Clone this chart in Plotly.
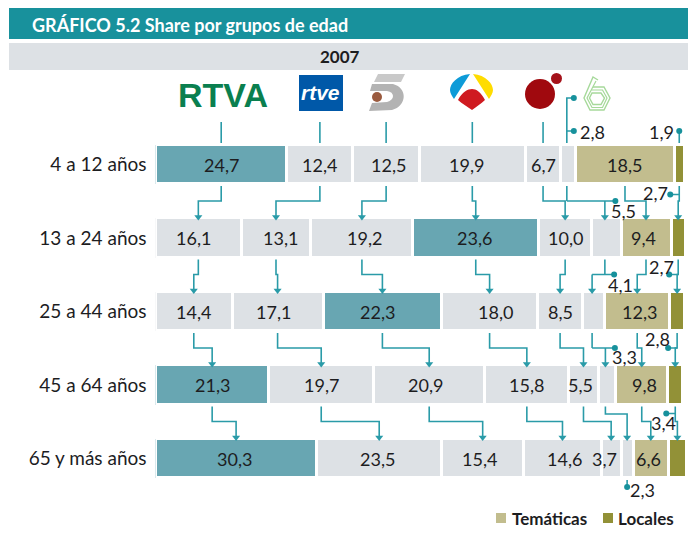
import plotly.graph_objects as go

# ---------- data ----------
row_labels = ["4 a 12 años", "13 a 24 años", "25 a 44 años", "45 a 64 años", "65 y más años"]
channels = ["RTVA", "rtve", "Telecinco", "Antena 3", "Cuatro", "laSexta", "Temáticas", "Locales"]
rtva = [24.7, 16.1, 14.4, 21.3, 30.3]
rtve = [12.4, 13.1, 17.1, 19.7, 23.5]
telecinco = [12.5, 19.2, 22.3, 20.9, 15.4]
antena3 = [19.9, 23.6, 18.0, 15.8, 14.6]
cuatro = [6.7, 10.0, 8.5, 5.5, 3.7]
lasexta = [2.8, 5.5, 4.1, 3.3, 2.3]
tematicas = [18.5, 9.4, 12.3, 9.8, 6.6]
locales = [1.9, 2.7, 2.7, 2.8, 3.4]
series = [rtva, rtve, telecinco, antena3, cuatro, lasexta, tematicas, locales]

# ---------- style ----------
W, H = 688, 537
TEAL, BAND, HI, TEM, LOC = "#18919c", "#dde1e5", "#68a6b2", "#c2bd8e", "#929137"
LINE = "#2a9ba8"
INK = "#1d1d1f"
FONT = "Lato"
X0, X1 = 155.5, 687.5           # plot area in pixels
Y_FIRST, ROW_H = 164.5, 73.5    # row 0 centre, row spacing in pixels
SCALE = (X1 - X0) / 100

def px(x): return x / W
def py(y): return 1 - y / H
def dx(p): return p / SCALE
def dy(p): return p / ROW_H

n_rows = len(row_labels)
cum = [[sum(s[r] for s in series[:j]) for j in range(len(series))] for r in range(n_rows)]
def centre(r, j): return cum[r][j] + series[j][r] / 2

fig = go.Figure()

# ---------- bars ----------
for j, (name, vals) in enumerate(zip(channels, series)):
    if j == 6:
        colors = [TEM] * n_rows
    elif j == 7:
        colors = [LOC] * n_rows
    else:
        colors = [HI if v == max(s[r] for s in series) else BAND for r, v in enumerate(vals)]
    fig.add_bar(y=list(range(n_rows)), x=vals, orientation="h", name=name, width=0.544,
                marker=dict(color=colors, line=dict(color="white", width=3)),
                hoverinfo="x+name", showlegend=False)

# ---------- connectors ----------
lx, ly, ax, ay, ox, oy = [], [], [], [], [], []
def path(points):
    for p in points:
        lx.append(p[0]); ly.append(p[1])
    lx.append(None); ly.append(None)
def arrow(x, y):
    ax.append(x); ay.append(y)
def dot(x, y):
    ox.append(x); oy.append(y)

TOP = dy(21.5)   # gap-side start below/above a bar
TIP = dy(21)
MID = dy(36.5)
for j in range(5):
    path([(centre(0, j), -dy(42.5)), (centre(0, j), -TOP)])
    for r in range(n_rows - 1):
        a, b = centre(r, j), centre(r + 1, j)
        path([(a, r + TOP), (a, r + MID), (b, r + MID), (b, r + 1 - TIP)])
        arrow(b, r + 1 - TIP)

# laSexta / Temáticas / Locales connectors, which carry pixel tweaks around crowded labels
c5, c6, c7 = [[centre(r, j) for r in range(n_rows)] for j in (5, 6, 7)]
top5 = c5[0] - dx(1.5)
path([(top5 + dx(7), -dy(66.5)), (top5, -dy(66.5)), (top5, -TOP)])
path([(top5, -dy(33.5)), (top5 + dx(7), -dy(33.5))])
dot(top5 + dx(7), -dy(66.5)); dot(top5 + dx(7), -dy(33.5))
path([(c7[0], -dy(33.5)), (c7[0], -TOP)])
dot(c7[0], -dy(33.5))

DOT_Y = [30, 36.5, 36.5, 28.5]       # Locales leader height per gap
LABEL_GAP = {0: 10.5, 1: 22, 2: 9.5}  # laSexta dot offset from its arrow
for r in range(n_rows - 1):
    # laSexta
    a, b = c5[r] - dx(1.5), c5[r + 1] - dx(1.5 if r + 1 < 4 else 0)
    if r == 3:
        path([(a, r + TOP), (a, r + dy(29)), (b, r + dy(29)), (b, r + 1 - TIP)])
    else:
        dotx = b + dx(LABEL_GAP[r])
        path([(a, r + TOP), (a, r + MID)])
        path([(min(a, b), r + MID), (dotx, r + MID)])
        path([(b, r + MID), (b, r + 1 - TIP)])
        dot(dotx, r + MID)
    arrow(b, r + 1 - TIP)
    # Temáticas
    a, b = c6[r], c6[r + 1]
    path([(a, r + TOP), (a, r + MID), (b, r + MID), (b, r + 1 - TIP)])
    arrow(b, r + 1 - TIP)
    # Locales
    a, b = c7[r], c7[r + 1]
    path([(a, r + TOP), (a, r + MID), (b, r + MID), (b, r + 1 - TIP)])
    path([(a, r + dy(DOT_Y[r])), (a - dx(9), r + dy(DOT_Y[r]))])
    dot(a - dx(9), r + dy(DOT_Y[r]))
    arrow(b, r + 1 - TIP)
path([(c5[4], 4 + TOP), (c5[4], 4 + dy(28.5))])
dot(c5[4], 4 + dy(28.5))

fig.add_scatter(x=lx, y=ly, mode="lines", line=dict(color=LINE, width=1.6),
                hoverinfo="skip", showlegend=False, connectgaps=False)
fig.add_scatter(x=ax, y=ay, mode="markers", marker=dict(symbol="triangle-down", size=7, color=LINE),
                hoverinfo="skip", showlegend=False)
fig.add_scatter(x=ox, y=oy, mode="markers", marker=dict(symbol="circle", size=6, color="#17919c"),
                hoverinfo="skip", showlegend=False)

# ---------- value labels ----------
shift = {(1, 0): -5, (1, 1): 4, (1, 2): 3, (1, 3): -2, (4, 3): 2, (4, 4): -7, (3, 4): -3,
         (3, 2): -4, (2, 3): 6, (2, 6): 2, (2, 2): -5, (2, 1): -4, (0, 2): 2, (0, 3): -6,
         (1, 6): -3, (4, 0): -2, (4, 1): -2, (4, 2): -3, (3, 6): 3, (4, 6): -2, (1, 3): -1}
outside = {  # row, column -> pixel offset from the segment centre
    (0, 5): (24, -33), (0, 7): (-18, -33),
    (1, 5): (17, -27), (1, 7): (-23, -45),
    (2, 5): (27, -27), (2, 7): (-16, -45),
    (3, 5): (18, -28), (3, 7): (-18, -46),
    (4, 5): (15, 31), (4, 7): (-14, -36),
}
notes = []
for j, vals in enumerate(series):
    for r, v in enumerate(vals):
        s = f"{v:.1f}".replace(".", ",")
        xs, ys = outside.get((r, j), (shift.get((r, j), 0), 0))
        notes.append(dict(x=centre(r, j), y=r, xref="x", yref="y", text=s, showarrow=False,
                          xshift=xs, yshift=-ys, font=dict(family=FONT, size=18, color=INK),
                          xanchor="center", yanchor="middle"))

def note(x, y, text, size, color=INK, bold=False, anchor="left", family=FONT, italic=False):
    t = f"<b>{text}</b>" if bold else text
    if italic:
        t = f"<i>{t}</i>"
    notes.append(dict(x=px(x), y=py(y), xref="paper", yref="paper", text=t, showarrow=False,
                      xanchor=anchor, yanchor="middle",
                      font=dict(family=family, size=size, color=color)))

note(30, 25, "GRÁFICO 5.2 Share por grupos de edad", 18, color="white", bold=True)
note(340, 56, "2007", 17, bold=True, anchor="center")
note(510, 518, "Temáticas", 17, bold=True)
note(616, 518, "Locales", 17, bold=True)
note(176, 95, "RTVA", 34, color="#0a7f4f", bold=True, family="Liberation Sans")
note(320.5, 93, "rtve", 21, color="white", bold=True, anchor="center", family="Liberation Sans", italic=True)

# ---------- bands, legend keys, logos ----------
def rect(x0, y0, x1, y1, color):
    return dict(type="rect", xref="paper", yref="paper", x0=px(x0), x1=px(x1), y0=py(y0), y1=py(y1),
                fillcolor=color, line=dict(width=0), layer="below")
def circle(cx, cy, r, color):
    return dict(type="circle", xref="paper", yref="paper", x0=px(cx - r), x1=px(cx + r),
                y0=py(cy - r), y1=py(cy + r), fillcolor=color, line=dict(width=0))
def shape_path(tokens, fill=None, stroke=None, width=0):
    d = ""
    for t in tokens:
        if isinstance(t, str):
            d += t + " "
        else:
            d += f"{px(t[0]):.5f},{py(t[1]):.5f} "
    return dict(type="path", xref="paper", yref="paper", path=d.strip(),
                fillcolor=fill if fill else "rgba(0,0,0,0)",
                line=dict(color=stroke if stroke else "rgba(0,0,0,0)", width=width))

GREEN6 = "#a6d99a"
shapes = [
    rect(9, 8, 688, 39, TEAL), rect(9, 43, 688, 70, BAND),
    rect(496, 513, 506, 523, TEM), rect(603, 513, 613, 523, LOC),
    rect(299, 75, 343, 111, "#0058a8"),
    # Telecinco 5
    shape_path(["M", (378, 74), "L", (405, 74), "L", (401, 82), "L", (374, 82), "Z"], fill="#c9c9c9"),
    shape_path(["M", (372, 84), "L", (393, 84), "C", (408, 88), (407, 106), (392, 110),
                "L", (369, 111), "L", (372, 103), "L", (387, 102), "C", (395, 100), (395, 92), (387, 91),
                "L", (370, 91), "Z"], fill="#b3b3b3"),
    circle(377, 97, 5, "#9a5a3e"),
    # Antena 3
    shape_path(["M", (470, 74), "C", (457, 75), (450, 84), (450, 90), "C", (450, 93), (452, 96), (454, 99), "Z"], fill="#0e9bd8"),
    shape_path(["M", (473, 74), "C", (486, 75), (493, 84), (493, 90), "C", (493, 93), (491, 96), (489, 99), "Z"], fill="#ffdc00"),
    shape_path(["M", (458, 100), "C", (462, 92), (468, 89), (472, 89), "C", (476, 89), (481, 92), (485, 100),
                "C", (481, 104), (476, 107), (472, 110), "C", (468, 107), (462, 104), (458, 100), "Z"], fill="#cf1a20"),
    # Cuatro
    circle(540, 94, 15, "#a0090e"), circle(556.5, 78.5, 5.5, "#a5121a"),
    # laSexta 6
    shape_path(["M", (598, 80), "L", (593, 77), "L", (584, 98), "L", (590, 110), "L", (604, 110),
                "L", (610, 98), "L", (604, 87), "L", (593, 87)], stroke=GREEN6, width=1.4),
    shape_path(["M", (596, 81), "L", (587, 98), "L", (592, 107.5), "L", (602.5, 107.5),
                "L", (607, 98), "L", (602.5, 90), "L", (591, 90)], stroke=GREEN6, width=1.2),
    shape_path(["M", (592, 93), "L", (601, 93), "L", (604.5, 98), "L", (601, 104.5), "L", (593, 104.5),
                "L", (589.5, 98), "Z"], stroke=GREEN6, width=1.4),
]

fig.update_layout(
    width=W, height=H, margin=dict(l=0, r=0, t=0, b=0), barmode="stack", bargap=0,
    paper_bgcolor="white", plot_bgcolor="rgba(0,0,0,0)", showlegend=False,
    annotations=notes, shapes=shapes,
    xaxis=dict(domain=[px(X0), px(X1)], range=[0, 100], visible=False, fixedrange=True),
    yaxis=dict(domain=[0, 1], range=[(H - Y_FIRST) / ROW_H, -Y_FIRST / ROW_H],
               tickmode="array", tickvals=list(range(n_rows)), ticktext=row_labels,
               showgrid=False, zeroline=False, showline=False, ticks="", fixedrange=True,
               ticklabelstandoff=8, tickfont=dict(family=FONT, size=19, color=INK)),
)
fig.write_html("out.html", config=dict(displayModeBar=False),
               post_script="document.body.style.margin='0';document.documentElement.style.overflow='hidden';")
